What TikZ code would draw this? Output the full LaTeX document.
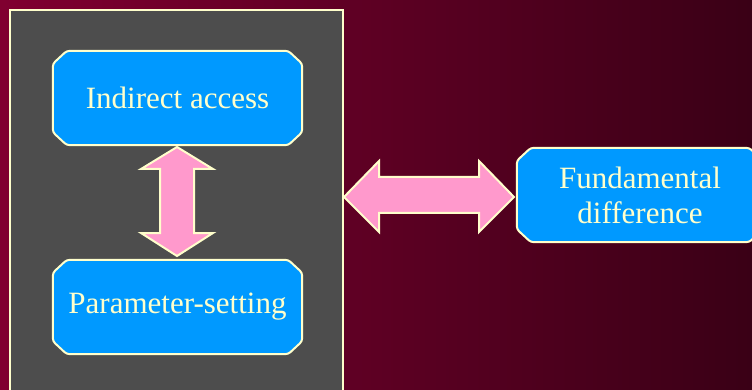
\documentclass[tikz,border=0pt]{standalone}
\usepackage{fontspec}
\setmainfont{Liberation Serif}
\definecolor{bgL}{RGB}{128,0,48}
\definecolor{bgR}{RGB}{58,0,22}
\definecolor{panel}{RGB}{77,77,77}
\definecolor{cream}{RGB}{255,255,204}
\definecolor{boxblue}{RGB}{0,153,255}
\definecolor{pinkarrow}{RGB}{255,153,204}
\pgfdeclarelayer{back}
\pgfdeclarelayer{mid}
\pgfsetlayers{back,mid,main}
\tikzset{
  cbox/.style={rectangle, inner sep=0pt, text=cream,
    font=\fontsize{31}{35}\selectfont, align=center},
  boxline/.style={fill=boxblue, draw=cream, line width=2pt, rounded corners=3pt},
  fatarrow/.style={fill=pinkarrow, draw=cream, line width=2pt, line join=miter}
}
\newcommand{\chbox}[1]{%
  \begin{pgfonlayer}{mid}
  \draw[boxline] ([xshift=14pt]#1.north west) -- ([xshift=-14pt]#1.north east)
    -- ([yshift=-13pt]#1.north east) -- ([yshift=13pt]#1.south east)
    -- ([xshift=-14pt]#1.south east) -- ([xshift=14pt]#1.south west)
    -- ([yshift=13pt]#1.south west) -- ([yshift=-13pt]#1.north west) -- cycle;
  \end{pgfonlayer}}
\begin{document}
\begin{tikzpicture}[x=1pt,y=-1pt]
\useasboundingbox (0,0) rectangle (752,390);
\begin{pgfonlayer}{back}
\shade[left color=bgL, right color=bgR] (0,0) rectangle (752,390);
\draw[fill=panel, draw=cream, line width=2pt] (10,10) rectangle (343,400);
\end{pgfonlayer}
\node[cbox, minimum width=249pt, minimum height=94pt] (ia) at (177.5,98) {Indirect access};
\node[cbox, minimum width=249pt, minimum height=94pt] (ps) at (177.5,307) {Parameter-setting};
\node[cbox, minimum width=246pt, minimum height=94pt] (fd) at (640,195) {Fundamental\\difference};
\chbox{ia}
\chbox{ps}
\chbox{fd}
% vertical double arrow
\coordinate (vt) at (177,147);
\coordinate (vb) at (177,256);
\draw[fatarrow] (vt) -- (213,169) -- (194,169) -- (194,233) -- (213,233) -- (vb)
  -- (141,233) -- (160,233) -- (160,169) -- (141,169) -- cycle;
% horizontal double arrow
\coordinate (hl) at (344,197);
\coordinate (hr) at (514,197);
\draw[fatarrow] (hl) -- (379,161) -- (379,177) -- (479,177) -- (479,161) -- (hr)
  -- (479,232) -- (479,213) -- (379,213) -- (379,232) -- cycle;
\end{tikzpicture}
\end{document}
